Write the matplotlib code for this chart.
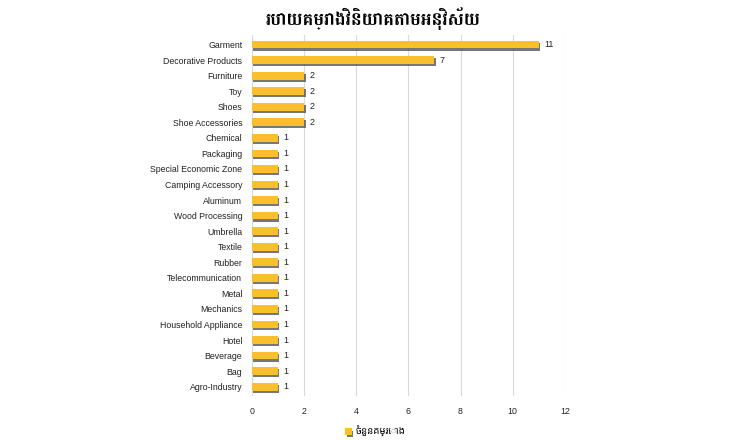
import matplotlib.pyplot as plt
import matplotlib.patheffects as pe
import numpy as np

# data
categories = ['Garment', 'Decorative Products', 'Furniture', 'Toy', 'Shoes',
              'Shoe Accessories', 'Chemical', 'Packaging', 'Special Economic Zone',
              'Camping Accessory', 'Aluminum', 'Wood Processing', 'Umbrella',
              'Textile', 'Rubber', 'Telecommunication', 'Metal', 'Mechanics',
              'Household Appliance', 'Hotel', 'Beverage', 'Bag', 'Agro-Industry']
projects = [11, 7, 2, 2, 2, 2, 1, 1, 1, 1, 1, 1, 1, 1, 1, 1, 1, 1, 1, 1, 1, 1, 1]
xticks = [0, 2, 4, 6, 8, 10, 12]

title = 'របាយគម្រោងវិនិយោគតាមអនុវិស័យ'
legend_label = 'ចំនួនគម្រោង'

plt.rcParams['font.family'] = ['Liberation Sans', 'Noto Sans Khmer', 'DejaVu Sans']

fig = plt.figure(figsize=(7.5, 4.4), dpi=100)
ax = fig.add_axes([0.336, 0.10, 0.417, 0.82])

y_pos = np.arange(len(categories))
bars = ax.barh(y_pos, projects, height=0.5, color='#F9BF2C', label=legend_label,
               zorder=3)
for b in bars:
    b.set_path_effects([pe.SimplePatchShadow(offset=(1, -1.5), shadow_rgbFace='#555555',
                                             alpha=0.8), pe.Normal()])

for y, v in zip(y_pos, projects):
    ax.text(v + 0.2, y, str(v), va='center', ha='left', fontsize=6.5, color='#222222')

ax.set_xlim(0, 12)
ax.set_ylim(len(categories) - 0.4, -0.6)
ax.set_xticks(xticks)
ax.set_yticks(y_pos)
ax.set_yticklabels(categories)
ax.tick_params(axis='both', length=0, labelsize=6.3, colors='#222222')
ax.tick_params(axis='y', pad=7)
ax.tick_params(axis='x', pad=8)
ax.grid(axis='x', color='#d9d9d9', linewidth=0.8, zorder=0)
for s in ax.spines.values():
    s.set_visible(False)

fig.text(0.497, 0.958, title, ha='center', va='center', fontsize=13, fontweight='bold',
         family=['Battambang', 'Noto Sans Khmer', 'DejaVu Sans'])
ax.legend(loc='upper left', bbox_to_anchor=(0.27, -0.06), frameon=False,
          prop={'family': ['Noto Sans Khmer', 'DejaVu Sans'], 'size': 7},
          handlelength=0.7, handleheight=0.7, handletextpad=0.4)

fig.savefig('out.png', dpi=100)
